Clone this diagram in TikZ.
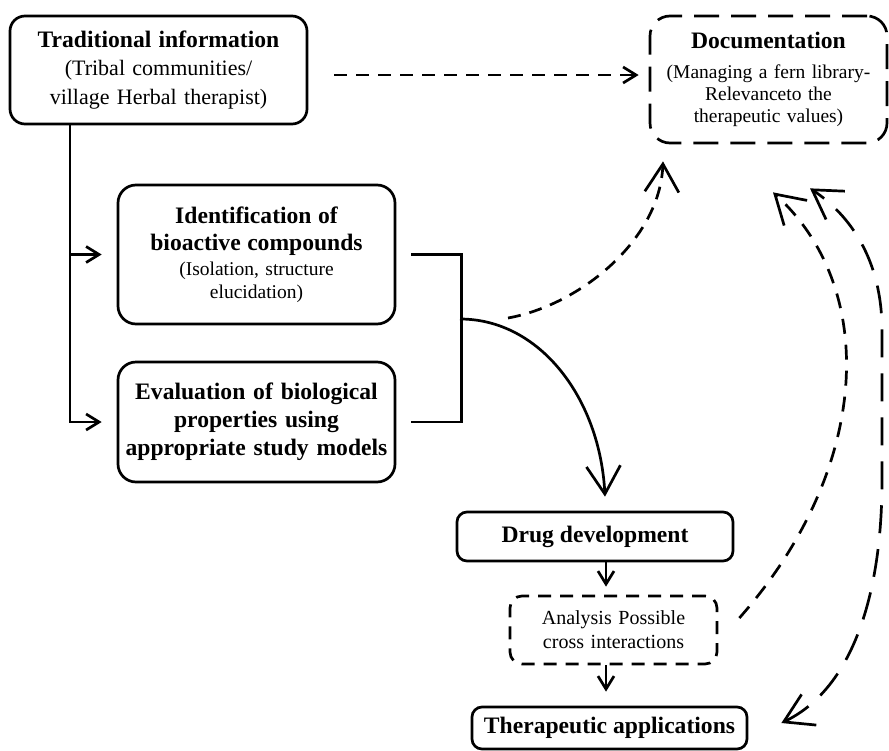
\documentclass[tikz,border=0pt]{standalone}
\usepackage{fontspec}
\setmainfont{Liberation Serif}
\usetikzlibrary{arrows.meta}

\begin{document}
\begin{tikzpicture}[x=1pt,y=-1pt,line width=2.7pt,
  box/.style={draw,rounded corners=15pt,align=center,inner sep=0pt},
  dbox/.style={box,dash pattern=on 25pt off 12pt},
  abox/.style={box,rounded corners=12pt,dash pattern=on 13pt off 9pt},
  small/.style={-{Straight Barb[length=13pt,width=16pt]}},
  big/.style={-{Straight Barb[length=28pt,width=34pt]}},
  bold/.style={font=\fontsize{23.6}{28}\selectfont\bfseries}]
\useasboundingbox (0,0) rectangle (889,750);
\node[box,minimum width=297pt,minimum height=108pt,text width=285pt,font=\fontsize{22}{28.5}\selectfont] (trad) at (158.5,70)
  {{\bfseries\fontsize{23.6}{28.5}\selectfont Traditional information}\\ (Tribal communities/\\ village Herbal therapist)};
\node[dbox,rounded corners=20pt,minimum width=237pt,minimum height=127pt,text width=225pt,font=\fontsize{19.5}{22}\selectfont] (doc) at (768.5,79.5)
  {{\bfseries\fontsize{23.6}{24}\selectfont Documentation}\\[8pt] (Managing a fern library-\\ Relevanceto the\\ therapeutic values)};
\node[box,rounded corners=18pt,minimum width=277pt,minimum height=139pt,text width=265pt,font=\fontsize{19.5}{23}\selectfont] (ident) at (256.5,254.5)
  {{\bfseries\fontsize{23.6}{24}\selectfont Identification of\\[4pt] bioactive compounds}\\[2pt] (Isolation, structure\\ elucidation)};
\node[box,rounded corners=18pt,minimum width=277pt,minimum height=120pt,text width=270pt,bold] (eval) at (256.5,422)
  {Evaluation of biological\\ properties using\\ appropriate study models};
\node[box,rounded corners=10pt,minimum width=276pt,minimum height=49pt,bold] (drug) at (595,536.5) {Drug development};
\node[abox,minimum width=207pt,minimum height=68pt,text width=200pt,font=\fontsize{20}{24}\selectfont] (analysis) at (613.5,630)
  {Analysis Possible\\ cross interactions};
\node[box,rounded corners=10pt,minimum width=275pt,minimum height=42pt,bold] (therapy) at (609.5,728) {Therapeutic applications};
\coordinate (trunk) at (70,422);
\coordinate (join) at (460,319);
\coordinate (fork) at (508,318);
\draw[small,shorten >=15pt] (trad.south -| trunk) -- (trunk) -- (eval.west);
\draw[small,shorten >=15pt] (trunk |- ident.west) -- (ident.west);
\draw ([xshift=15pt]ident.east) -- ++(50,0) |- ([xshift=15pt]eval.east);
\draw[small,dash pattern=on 13pt off 9pt] ([xshift=26pt,yshift=-5pt]trad.east) -- ([xshift=-10pt,yshift=4.5pt]doc.west);
\draw[big] (join) .. controls +(80,0) and +(-5,-98) .. ([xshift=10pt,yshift=14pt]drug.north);
\draw[big,dash pattern=on 13pt off 9pt] (fork) .. controls (580,305) and (660,240) .. ([xshift=-105.5pt,yshift=-17pt]doc.south);
\draw[small,shorten >=8pt] (drug.south -| 606,0) -- (analysis.north -| 606,0);
\draw[small,shorten >=14pt] (analysis.south -| 606,0) -- (therapy.north -| 606,0);
\draw[big,dash pattern=on 15pt off 11pt] ([xshift=21pt,yshift=12pt]analysis.east) .. controls (870,470) and (880,290) .. ([xshift=4.5pt,yshift=-48pt]doc.south);
\draw[{Straight Barb[length=28pt,width=34pt]}-{Straight Barb[length=28pt,width=34pt]},dash pattern=on 28pt off 16pt]
  ([xshift=33pt,yshift=5pt]therapy.east) .. controls (850,690) and (882,600) .. (882,480) -- (882,330)
  .. controls (882,260) and (850,215) .. ([xshift=41.5pt,yshift=-44pt]doc.south);
\end{tikzpicture}
\end{document}
